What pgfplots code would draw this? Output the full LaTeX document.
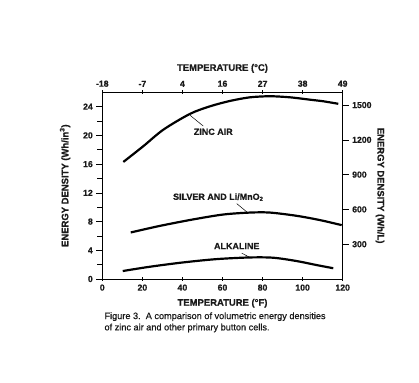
\documentclass[border=0pt]{standalone}
\usepackage{pgfplots}
\pgfplotsset{compat=1.18}
\usepackage{fontspec}
\setmainfont{Liberation Sans}[FakeBold=0.8]
\definecolor{txt}{HTML}{1A1A1A}
\pgfplotsset{
  base/.style={
    at={(102.3bp,104bp)}, anchor=south west,
    scale only axis, width=240.4bp, height=186.7bp,
    xmin=0, xmax=120, ymin=0, ymax=26,
    axis line style={black, line width=0.7pt},
    tick style={black, line width=0.6pt},
    tick label style={font=\fontsize{8.7}{10}\selectfont\bfseries, text=txt},
    label style={font=\fontsize{9.5}{11}\selectfont\bfseries, text=txt},
    /pgf/number format/assume math mode=true,
    /pgf/number format/1000 sep={},
    clip=false,
  }
}
\begin{document}
\begin{tikzpicture}[x=1bp,y=1bp]
\useasboundingbox (0,0) rectangle (419,383);
% main data axis: left y
\begin{axis}[base,
  axis x line*=bottom, axis y line*=left,
  xtick=\empty,
  ytick={0,4,...,24}, minor ytick={2,6,...,22},
  tick align=outside, major tick length=6bp, minor tick length=5bp,
  ylabel={ENERGY DENSITY (Wh/in\textsuperscript{3})},
  ylabel style={at={(axis description cs:-0.155,0.5)}, anchor=center},
]
\addplot[black, line width=2.2pt, smooth] coordinates {
 (10.5,16.3) (20.5,18.5) (30.5,20.8) (43.8,23.0) (53.8,24.05) (63.8,24.8)
 (73.7,25.3) (83.7,25.45) (93.7,25.3) (103.7,24.97) (110.3,24.75) (117.8,24.4)};
\addplot[black, line width=2.2pt, smooth] coordinates {
 (14.2,6.48) (28.8,7.4) (45.4,8.3) (60.4,8.98) (73.7,9.25) (83.7,9.25)
 (97,8.8) (108.7,8.2) (119.5,7.5)};
\addplot[black, line width=2.2pt, smooth] coordinates {
 (10.2,1.11) (23.8,1.71) (40.4,2.31) (57.1,2.77) (73.7,3.0) (85.4,2.96)
 (97,2.5) (107,1.94) (115.3,1.5)};
\node[font=\fontsize{9}{11}\selectfont\bfseries, text=txt] at (axis cs:55.4,20.5) {ZINC AIR};
\draw[line width=0.5pt] (axis cs:43.8,22.8) -- (axis cs:50.4,21.3);
\node[font=\fontsize{9}{11}\selectfont\bfseries, text=txt] at (axis cs:57.9,11.4) {SILVER AND Li/MnO\textsubscript{2}};
\draw[line width=0.5pt] (axis cs:67.1,10.5) -- (axis cs:72.1,9.35);
\node[font=\fontsize{9}{11}\selectfont\bfseries, text=txt] at (axis cs:67.1,4.58) {ALKALINE};
\draw[line width=0.5pt] (axis cs:69.6,3.6) -- (axis cs:73.7,3.0);
\end{axis}
% bottom x axis
\begin{axis}[base,
  axis x line*=bottom, axis y line=none,
  xtick={0,20,...,120}, ytick=\empty,
  tick align=center, major tick length=4bp,
  xlabel={TEMPERATURE (\textdegree F)},
  xlabel style={at={(axis description cs:0.5,-0.13)}, anchor=center},
]
\end{axis}
% top x axis (Celsius)
\begin{axis}[base,
  axis x line*=top, axis y line=none,
  xtick={0,20,...,120}, xticklabels={-18,-7,4,16,27,38,49}, ytick=\empty,
  tick align=center, major tick length=4bp,
  xlabel={TEMPERATURE (\textdegree C)},
  xlabel style={at={(axis description cs:0.5,1.128)}, anchor=center},
]
\end{axis}
% right y axis (Wh/L)
\begin{axis}[base,
  ymin=0, ymax=1610,
  axis x line=none, axis y line*=right,
  xtick=\empty, ytick={300,600,...,1500},
  tick align=outside, major tick length=6bp,
  ylabel={ENERGY DENSITY (Wh/L)},
  ylabel style={at={(axis description cs:1.155,0.5)}, anchor=center, rotate=180},
]
\end{axis}
\node[anchor=west, font=\fontsize{9.2}{11}\selectfont, text=txt] at (101,66.3) {Figure 3.\ \ A comparison of volumetric energy densities};
\node[anchor=west, font=\fontsize{9.2}{11}\selectfont, text=txt] at (101,55) {of zinc air and other primary button cells.};
\end{tikzpicture}
\end{document}
